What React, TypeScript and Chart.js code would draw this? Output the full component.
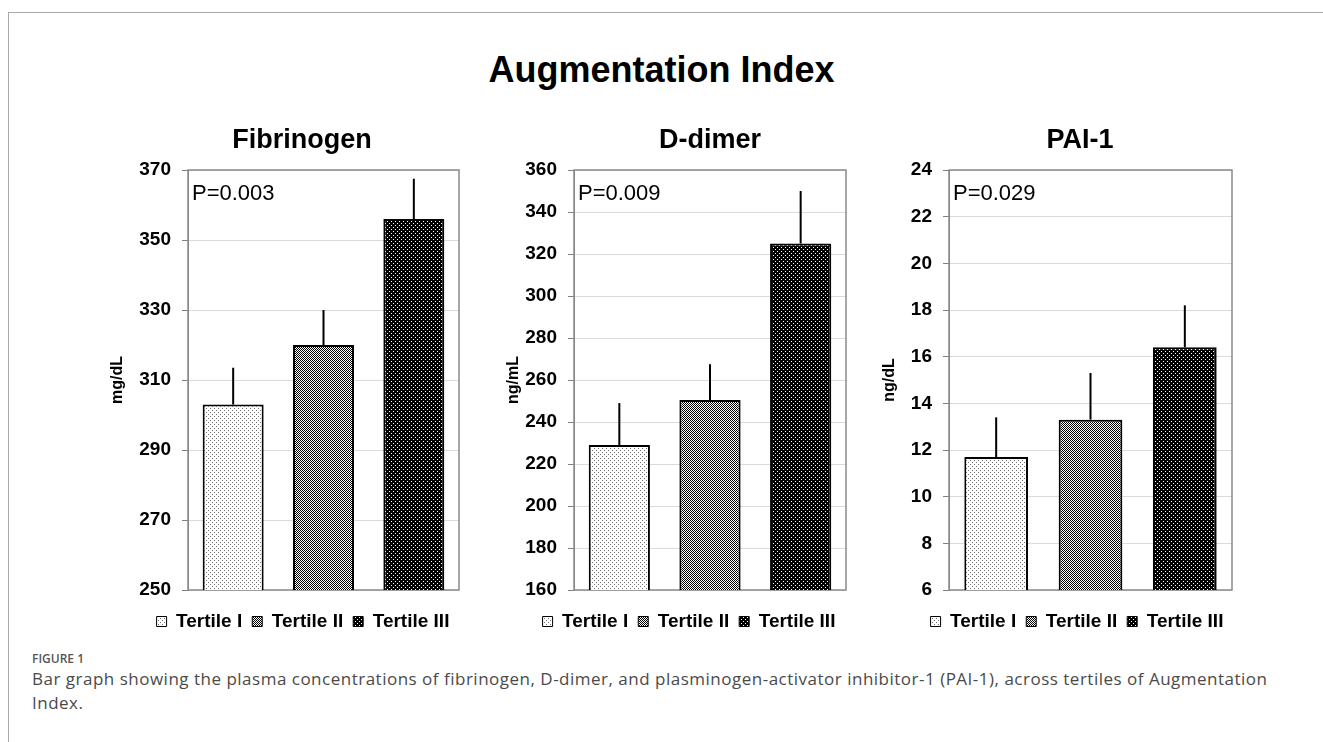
import React, { useEffect, useRef } from 'react';
import { Chart, registerables } from 'chart.js';

Chart.register(...registerables);

// ---- Data ----
const categories = ['Tertile I', 'Tertile II', 'Tertile III'];

const fibrinogenMeans = [303, 320, 356];
const fibrinogenUpper = [313.5, 330, 367.5];
const fibrinogenRange = [250, 370, 20];

const ddimerMeans = [229, 250.5, 325];
const ddimerUpper = [249, 267.5, 350];
const ddimerRange = [160, 360, 20];

const pai1Means = [11.7, 13.3, 16.4];
const pai1Upper = [13.4, 15.3, 18.2];
const pai1Range = [6, 24, 2];

const panelTitles = ['Fibrinogen', 'D-dimer', 'PAI-1'];
const unitLabels = ['mg/dL', 'ng/mL', 'ng/dL'];
const pValues = ['P=0.003', 'P=0.009', 'P=0.029'];

const mainTitle = 'Augmentation Index';
const figureLabel = 'FIGURE 1';
const captionLine1 =
  'Bar graph showing the plasma concentrations of fibrinogen, D-dimer, and plasminogen-activator inhibitor-1 (PAI-1), across tertiles of Augmentation';
const captionLine2 = 'Index.';

// ---- Layout (positions only) ----
const CANVAS_TOP = 110;
const CANVAS_H = 531;
const panelLayout = [
  { left: 104, width: 398, yW: 84, rW: 43, titleX: 198 },
  { left: 500, width: 378, yW: 74, rW: 32, titleX: 210 },
  { left: 876, width: 402, yW: 73, rW: 46, titleX: 204 },
];

const FONT = '"Liberation Sans", Arial, Helvetica, sans-serif';
Chart.defaults.font.family = FONT;
Chart.defaults.color = '#000';

function makePattern(kind: number, ctx: CanvasRenderingContext2D) {
  const c = document.createElement('canvas');
  c.width = 4;
  c.height = 4;
  const g = c.getContext('2d') as CanvasRenderingContext2D;
  if (kind === 0) {
    g.fillStyle = '#ffffff';
    g.fillRect(0, 0, 4, 4);
    g.fillStyle = '#6e6e6e';
    g.fillRect(0, 0, 1, 1);
    g.fillRect(2, 2, 1, 1);
  } else if (kind === 1) {
    g.fillStyle = '#ffffff';
    g.fillRect(0, 0, 4, 4);
    g.fillStyle = '#000000';
    for (let x = 0; x < 4; x++)
      for (let y = 0; y < 4; y++) if ((x + y) % 2 === 0) g.fillRect(x, y, 1, 1);
  } else {
    g.fillStyle = '#000000';
    g.fillRect(0, 0, 4, 4);
    g.fillStyle = '#ffffff';
    g.fillRect(1, 1, 1, 1);
    g.fillRect(3, 3, 1, 1);
  }
  return ctx.createPattern(c, 'repeat') as CanvasPattern;
}

const decorPlugin = {
  id: 'panelDecor',
  beforeDatasetsDraw(chart: any) {
    const { ctx, chartArea: a } = chart;
    ctx.save();
    ctx.strokeStyle = '#8a8a8a';
    ctx.lineWidth = 1.5;
    ctx.strokeRect(a.left, a.top, a.right - a.left, a.bottom - a.top);
    ctx.restore();
  },
  afterDatasetsDraw(chart: any, _args: any, opts: any) {
    const { ctx, chartArea: a } = chart;
    const ys = chart.scales.y;
    ctx.save();
    ctx.strokeStyle = '#000';
    ctx.lineWidth = 2;
    (opts.upper as number[]).forEach((u, i) => {
      const el = chart.getDatasetMeta(i).data[0];
      if (!el) return;
      ctx.beginPath();
      ctx.moveTo(el.x, el.y);
      ctx.lineTo(el.x, ys.getPixelForValue(u));
      ctx.stroke();
    });
    ctx.fillStyle = '#000';
    ctx.textAlign = 'left';
    ctx.textBaseline = 'alphabetic';
    ctx.font = `22px ${FONT}`;
    ctx.fillText(opts.pText, a.left + 4, a.top + 29.5);
    ctx.textAlign = 'center';
    ctx.font = `bold 27px ${FONT}`;
    ctx.fillText(opts.title, opts.titleX, 37.7);
    ctx.restore();
  },
};

type PanelProps = {
  idx: number;
  means: number[];
  upper: number[];
  range: number[];
};

function Panel({ idx, means, upper, range }: PanelProps) {
  const ref = useRef<HTMLCanvasElement>(null);
  const lay = panelLayout[idx];
  useEffect(() => {
    const canvas = ref.current;
    if (!canvas) return;
    const ctx = canvas.getContext('2d') as CanvasRenderingContext2D;
    const patterns = [0, 1, 2].map((k) => makePattern(k, ctx));
    const chart = new Chart(canvas, {
      type: 'bar',
      data: {
        labels: [''],
        datasets: categories.map((c, i) => ({
          label: c,
          data: [means[i]],
          backgroundColor: patterns[i],
          borderColor: '#000',
          borderWidth: 2,
          borderSkipped: false,
          categoryPercentage: 1,
          barPercentage: 0.675,
        })),
      },
      options: {
        responsive: false,
        animation: false,
        events: [],
        layout: { padding: { top: 60, bottom: 0, left: 0, right: 0 } },
        scales: {
          x: {
            display: true,
            grid: { display: false },
            ticks: { display: false },
            border: { display: false },
            afterFit: (s: any) => {
              s.height = 12;
            },
          },
          y: {
            type: 'linear',
            position: 'left',
            min: range[0],
            max: range[1],
            ticks: {
              stepSize: range[2],
              padding: 11,
              color: '#000',
              font: { weight: 'bold', size: 19 },
            },
            grid: {
              color: '#dadada',
              lineWidth: 1,
              tickColor: '#808080',
              tickLength: 6,
            },
            border: { display: true, color: '#808080', width: 1 },
            title: {
              display: true,
              text: unitLabels[idx],
              color: '#000',
              font: { weight: 'bold', size: 16 },
              padding: { top: 4, bottom: 4 },
            },
            afterFit: (s: any) => {
              s.width = lay.yW;
            },
          },
          yR: {
            type: 'linear',
            position: 'right',
            display: true,
            grid: { display: false },
            ticks: { display: false },
            border: { display: false },
            afterFit: (s: any) => {
              s.width = lay.rW;
            },
          },
        },
        plugins: {
          tooltip: { enabled: false },
          title: { display: false },
          legend: {
            display: true,
            position: 'bottom',
            labels: {
              boxWidth: 10,
              boxHeight: 10,
              padding: 10,
              color: '#000',
              font: { weight: 'bold', size: 19 },
              generateLabels: (ch: any) =>
                (Chart.defaults.plugins.legend.labels as any)
                  .generateLabels(ch)
                  .map((l: any) => ({ ...l, lineWidth: 1 })),
            },
          },
          panelDecor: {
            upper,
            pText: pValues[idx],
            title: panelTitles[idx],
            titleX: lay.titleX,
          },
        } as any,
      },
      plugins: [decorPlugin],
    } as any);
    return () => chart.destroy();
  }, []);
  return (
    <canvas
      ref={ref}
      width={lay.width}
      height={CANVAS_H}
      style={{
        position: 'absolute',
        left: lay.left,
        top: CANVAS_TOP,
        width: lay.width,
        height: CANVAS_H,
      }}
    />
  );
}

export default function App() {
  return (
    <div
      style={{
        position: 'absolute',
        left: 0,
        top: 0,
        width: 1323,
        height: 742,
        background: '#fff',
        overflow: 'hidden',
      }}
    >
      <div
        style={{
          position: 'absolute',
          left: 8,
          top: 12,
          right: 0,
          height: 0,
          borderTop: '1.5px solid #a9a9a9',
        }}
      />
      <div
        style={{
          position: 'absolute',
          left: 8,
          top: 12,
          bottom: 0,
          width: 0,
          borderLeft: '1.5px solid #a9a9a9',
        }}
      />
      <div
        style={{
          position: 'absolute',
          left: 0,
          top: 50,
          width: 1323,
          height: 40,
          lineHeight: '40px',
          textAlign: 'center',
          fontFamily: FONT,
          fontWeight: 'bold',
          fontSize: 36,
          color: '#000',
          whiteSpace: 'nowrap',
        }}
      >
        {mainTitle}
      </div>
      <Panel idx={0} means={fibrinogenMeans} upper={fibrinogenUpper} range={fibrinogenRange} />
      <Panel idx={1} means={ddimerMeans} upper={ddimerUpper} range={ddimerRange} />
      <Panel idx={2} means={pai1Means} upper={pai1Upper} range={pai1Range} />
      <div
        style={{
          position: 'absolute',
          left: 32,
          top: 651,
          lineHeight: '16px',
          fontFamily: '"Open Sans", sans-serif',
          fontSize: 12,
          fontWeight: 600,
          color: '#555',
          whiteSpace: 'nowrap',
        }}
      >
        {figureLabel}
      </div>
      <div
        style={{
          position: 'absolute',
          left: 32,
          top: 667,
          lineHeight: '24px',
          fontFamily: '"Open Sans", sans-serif',
          fontSize: 17,
          letterSpacing: '0.5px',
          color: '#4a4a4a',
          whiteSpace: 'nowrap',
        }}
      >
        {captionLine1}
        <br />
        {captionLine2}
      </div>
    </div>
  );
}
